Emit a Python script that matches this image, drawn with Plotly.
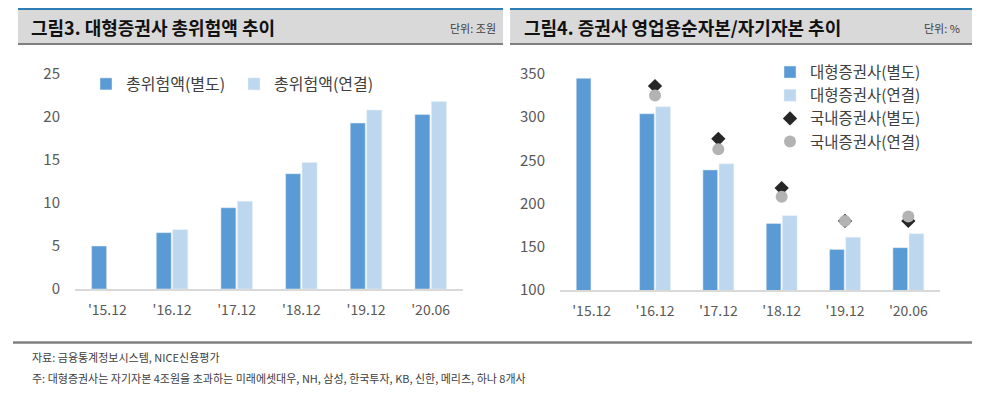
import plotly.graph_objects as go

W, H = 1000, 397
OFF = 8  # the page body adds an 8px margin; compensate so marks land where intended

categories = ["'15.12", "'16.12", "'17.12", "'18.12", "'19.12", "'20.06"]

# Figure 3: total risk amount (trillion won)
risk_separate = [5.0, 6.55, 9.45, 13.4, 19.3, 20.3]
risk_consolidated = [None, 6.9, 10.2, 14.7, 20.8, 21.8]

# Figure 4: NCR / equity (%)
large_separate = [345, 304, 239, 177, 147, 149]
large_consolidated = [None, 312, 246, 186, 161, 165]
domestic_separate = [None, 336, 275, 218, 180, 180]
domestic_consolidated = [None, 325, 263, 208, 180, 185]

left_ticks = [0, 5, 10, 15, 20, 25]
right_ticks = [100, 150, 200, 250, 300, 350]

DARK = "#5b9bd5"
LIGHT = "#bdd7ee"
FONT = "Noto Sans CJK KR"
TICK = "#595959"
TXT = "#404040"


def px(x):
    return (x - OFF) / W


def py(y):
    return 1 - (y - OFF) / H


fig = go.Figure()

fig.add_trace(go.Bar(x=categories, y=risk_separate, name="총위험액(별도)",
                     marker_color=DARK, xaxis="x", yaxis="y", legend="legend"))
fig.add_trace(go.Bar(x=categories, y=risk_consolidated, name="총위험액(연결)",
                     marker_color=LIGHT, xaxis="x", yaxis="y", legend="legend"))

fig.add_trace(go.Bar(x=categories, y=large_separate, name="대형증권사(별도)",
                     marker_color=DARK, xaxis="x2", yaxis="y2", legend="legend2"))
fig.add_trace(go.Bar(x=categories, y=large_consolidated, name="대형증권사(연결)",
                     marker_color=LIGHT, xaxis="x2", yaxis="y2", legend="legend2"))
fig.add_trace(go.Scatter(x=categories, y=domestic_separate, name="국내증권사(별도)",
                         mode="markers", marker=dict(symbol="diamond", size=11, color="#262626"),
                         xaxis="x2", yaxis="y2", legend="legend2"))
fig.add_trace(go.Scatter(x=categories, y=domestic_consolidated, name="국내증권사(연결)",
                         mode="markers", marker=dict(symbol="circle", size=12, color="#b3b3b3"),
                         xaxis="x2", yaxis="y2", legend="legend2"))

xaxis_common = dict(showgrid=False, zeroline=False, ticks="", automargin=False,
                    showline=True, linecolor="#d9d9d9", linewidth=1.5, ticklabelstandoff=7,
                    tickfont=dict(family=FONT, size=14, color=TICK))
yaxis_common = dict(showgrid=False, zeroline=False, ticks="", automargin=False,
                    showline=False, ticklabelstandoff=14,
                    tickfont=dict(family=FONT, size=15, color=TICK))

shapes = []
annotations = []

# title bars
for x0, x1 in [(18, 503), (510, 972)]:
    shapes.append(dict(type="rect", xref="paper", yref="paper", x0=px(x0), x1=px(x1),
                       y0=py(43), y1=py(9.5), fillcolor="#d9d9d9", line_width=0, layer="below"))
    shapes.append(dict(type="line", xref="paper", yref="paper", x0=px(x0), x1=px(x1),
                       y0=py(9), y1=py(9), line=dict(color="#2e7db5", width=2)))
    shapes.append(dict(type="line", xref="paper", yref="paper", x0=px(x0), x1=px(x1),
                       y0=py(44), y1=py(44), line=dict(color="#7f7f7f", width=2)))

shapes.append(dict(type="line", xref="paper", yref="paper", x0=px(13), x1=px(972),
                   y0=py(342.5), y1=py(342.5), line=dict(color="#808080", width=2.5)))

annotations += [
    dict(text="<b>그림3. 대형증권사 총위험액 추이</b>", x=px(29), y=py(27), xref="paper", yref="paper",
         xanchor="left", yanchor="middle", showarrow=False, font=dict(family=FONT, size=18, color="#111111")),
    dict(text="단위: 조원", x=px(498), y=py(28), xref="paper", yref="paper",
         xanchor="right", yanchor="middle", showarrow=False, font=dict(family=FONT, size=11, color=TXT)),
    dict(text="<b>그림4. 증권사 영업용순자본/자기자본 추이</b>", x=px(522), y=py(27), xref="paper", yref="paper",
         xanchor="left", yanchor="middle", showarrow=False, font=dict(family=FONT, size=18, color="#111111")),
    dict(text="단위: %", x=px(962), y=py(28), xref="paper", yref="paper",
         xanchor="right", yanchor="middle", showarrow=False, font=dict(family=FONT, size=11, color=TXT)),
    dict(text="자료: 금융통계정보시스템, NICE신용평가", x=px(30), y=py(357), xref="paper", yref="paper",
         xanchor="left", yanchor="middle", showarrow=False, font=dict(family=FONT, size=11, color=TXT)),
    dict(text="주: 대형증권사는 자기자본 4조원을 초과하는 미래에셋대우, NH, 삼성, 한국투자, KB, 신한, 메리츠, 하나 8개사",
         x=px(30), y=py(378), xref="paper", yref="paper",
         xanchor="left", yanchor="middle", showarrow=False, font=dict(family=FONT, size=11, color=TXT)),
]

fig.update_layout(
    width=W, height=H, autosize=False,
    margin=dict(l=0, r=0, t=0, b=0, pad=0, autoexpand=False),
    paper_bgcolor="white", plot_bgcolor="white",
    barmode="group", bargap=0.49, bargroupgap=0.09,
    xaxis=dict(domain=[px(75), px(463)], anchor="y", **xaxis_common),
    yaxis=dict(domain=[py(289), py(74)], anchor="x", range=[0, 25], tickvals=left_ticks,
               **yaxis_common),
    xaxis2=dict(domain=[px(560), px(940)], anchor="y2", **xaxis_common),
    yaxis2=dict(domain=[py(290), py(74)], anchor="x2", range=[100, 350], tickvals=right_ticks,
                **yaxis_common),
    legend=dict(x=px(86), y=py(67), xanchor="left", yanchor="top", orientation="h",
                font=dict(family=FONT, size=16, color=TXT), bgcolor="rgba(0,0,0,0)",
                entrywidth=103, entrywidthmode="pixels", itemclick=False),
    legend2=dict(x=px(770), y=py(55.5), xanchor="left", yanchor="top", orientation="v",
                 font=dict(family=FONT, size=15.5, color=TXT), bgcolor="rgba(0,0,0,0)",
                 tracegroupgap=0, itemclick=False),
    shapes=shapes, annotations=annotations,
    showlegend=True,
)

fig.write_html("out.html")
